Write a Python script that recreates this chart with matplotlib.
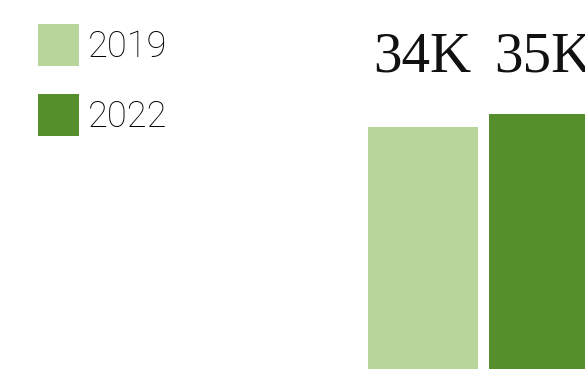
import matplotlib
matplotlib.use("Agg")
import matplotlib.pyplot as plt
import matplotlib.transforms as mtransforms
from matplotlib.patches import Patch

years = ["2019", "2022"]
values = [33600, 35400]
labels = ["34K", "35K"]
colors = ["#b8d69b", "#548f2b"]

fig = plt.figure(figsize=(5.85, 3.69), dpi=100)
ax = fig.add_axes([0, 0, 1, 1])
x = [0, 1]
ax.bar(x, values, width=110 / 121, color=colors, linewidth=0)
ax.set_xlim(-422.5 / 121, (585 - 422.5) / 121)
ax.set_ylim(0, 35400 * 369 / 255)
ax.axis("off")

trans = mtransforms.blended_transform_factory(ax.transData, ax.transAxes)
for xi, lab in zip(x, labels):
    ax.text(xi, 297 / 369, lab, transform=trans, ha="center", va="baseline",
            family="Liberation Serif", fontsize=41, color="#111111")

fs = 26
handles = [Patch(facecolor=c, edgecolor="none") for c in colors]
fig.legend(handles, years, loc="upper left", bbox_to_anchor=(38 / 585, 1 - 24 / 369),
           frameon=False, borderpad=0, borderaxespad=0,
           handlelength=41 / (fs * 100 / 72), handleheight=1.48 * 24 / fs * 1.03,
           labelspacing=0.78, handletextpad=0.25,
           prop={"family": "Roboto", "weight": "light", "size": fs})

fig.savefig("out.png", dpi=100)
